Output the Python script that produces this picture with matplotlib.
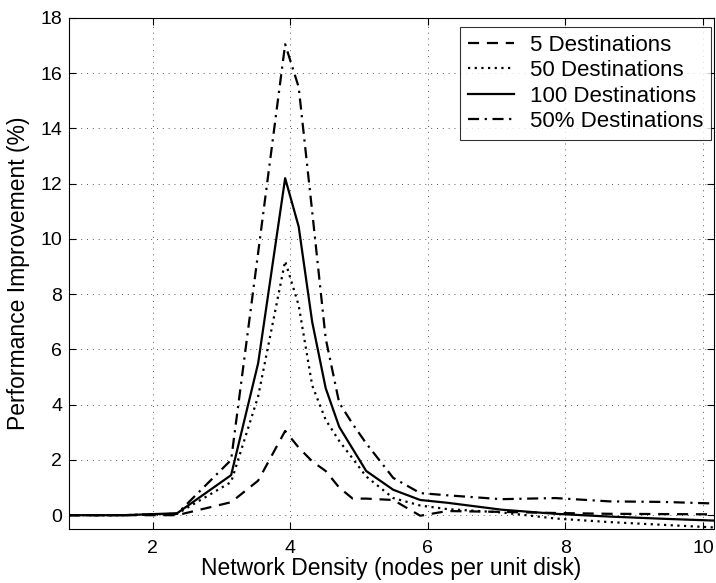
import numpy as np
import matplotlib
matplotlib.use("Agg")
import matplotlib.pyplot as plt

plt.rcParams["font.family"] = ["Liberation Sans", "DejaVu Sans"]

# network density (nodes per unit disk), sampled in steps of pi/8 with a finer step near the peak
density = np.pi * np.array([0.25, 0.5, 0.75, 1.0, 1.125, 1.25, 1.3125, 1.375, 1.4375,
                            1.5, 1.5625, 1.625, 1.75, 1.875, 2.0, 2.25, 2.5, 2.75, 3.0, 3.25])

# performance improvement (%) per destination count
dest_5 = [0.0, 0.0, 0.0, 0.47, 1.25, 3.05, 2.45, 1.95, 1.6, 1.0, 0.6, 0.6, 0.55, -0.02,
          0.15, 0.12, 0.08, 0.05, 0.04, 0.03]
dest_50 = [0.0, 0.0, 0.05, 1.2, 4.3, 9.2, 7.6, 4.7, 3.45, 2.69, 2.05, 1.4, 0.62, 0.35,
           0.22, 0.1, -0.12, -0.25, -0.35, -0.45]
dest_100 = [0.0, 0.0, 0.07, 1.45, 5.5, 12.2, 10.45, 7.0, 4.6, 3.2, 2.4, 1.6, 0.92, 0.55,
            0.45, 0.2, 0.05, -0.05, -0.13, -0.2]
dest_50pct = [0.0, 0.0, 0.05, 2.0, 9.5, 17.05, 15.5, 11.0, 6.4, 4.07, 3.3, 2.6, 1.35, 0.8,
              0.72, 0.58, 0.62, 0.5, 0.48, 0.42]

series = [
    ("5 Destinations", dest_5, (0, (5, 3.5))),
    ("50 Destinations", dest_50, (0, (1, 2))),
    ("100 Destinations", dest_100, "-"),
    ("50% Destinations", dest_50pct, (0, (5, 2.5, 1, 2.5))),
]

W, H = 716, 583
fig = plt.figure(figsize=(W / 100, H / 100), dpi=100)
ax = fig.add_axes([69 / W, 1 - 529 / H, (714 - 69) / W, (529 - 18) / H])

for label, vals, ls in series:
    ax.plot(density, vals, color="black", linestyle=ls, linewidth=1.6, label=label)

ax.set_xlim(np.pi / 4, 10.16)
ax.set_ylim(-0.5, 18)
ax.set_xticks([2, 4, 6, 8, 10])
ax.set_yticks(np.arange(0, 19, 2))

ax.grid(True, color="0.35", linestyle=(0, (1, 5)), linewidth=0.7)
ax.tick_params(direction="in", top=True, right=True, length=5, labelsize=14, width=0.8)
ax.tick_params(axis="x", pad=8)
ax.tick_params(axis="y", pad=5)
for sp in ax.spines.values():
    sp.set_linewidth(0.8)

ax.set_xlabel("Network Density (nodes per unit disk)", fontsize=16.5, labelpad=0)
ax.set_ylabel("Performance Improvement (%)", fontsize=16.5, labelpad=7)

leg = ax.legend(loc="upper right", bbox_to_anchor=(711 / W, 1 - 27 / H),
                bbox_transform=fig.transFigure, borderaxespad=0,
                fontsize=16, frameon=True, fancybox=False, edgecolor="black",
                handlelength=2.1, handletextpad=0.7, labelspacing=0.2, borderpad=0.35)
leg.get_frame().set_linewidth(0.8)

fig.savefig("out.png", dpi=100, facecolor="white")
